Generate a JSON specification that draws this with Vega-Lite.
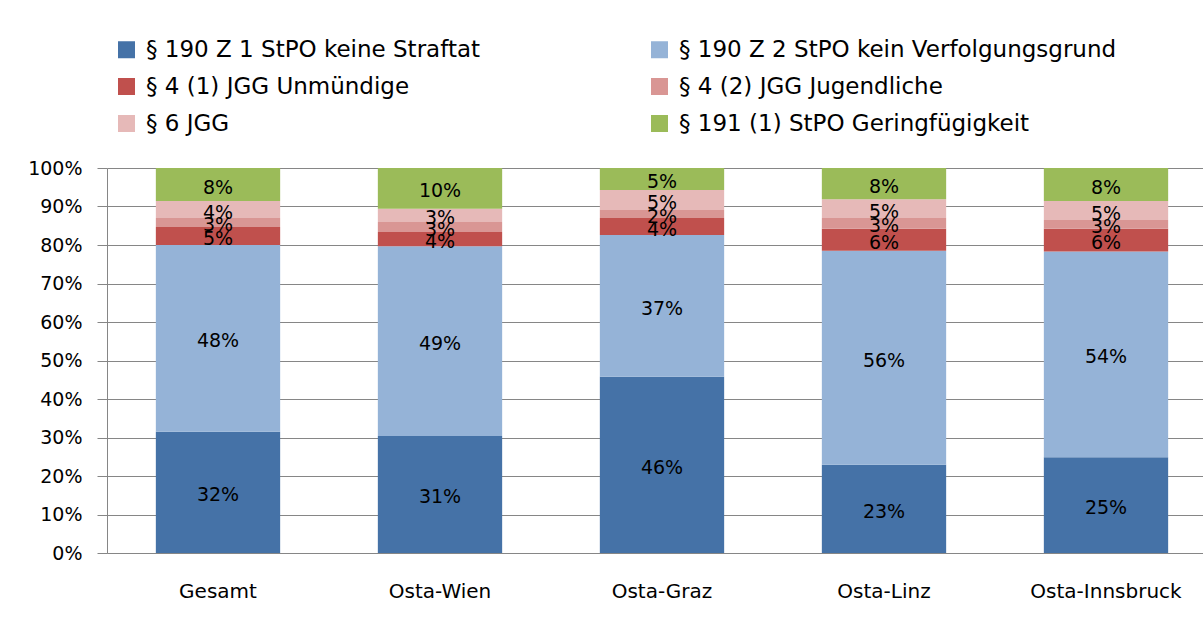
{
  "$schema": "https://vega.github.io/schema/vega-lite/v6.json",
  "autosize": {"type": "none"},
  "padding": {"left": 107, "top": 168, "right": 0, "bottom": 69},
  "width": 1110,
  "height": 385,
  "background": "white",
  "config": {"view": {"stroke": null}, "font": "DejaVu Sans"},
  "data": {"values": [
    {"region": "Gesamt", "cat": "§ 190 Z 1 StPO keine Straftat", "ord": 1, "value": 31.5, "label": "32%"},
    {"region": "Gesamt", "cat": "§ 190 Z 2 StPO kein Verfolgungsgrund", "ord": 2, "value": 48.5, "label": "48%"},
    {"region": "Gesamt", "cat": "§ 4 (1) JGG Unmündige", "ord": 3, "value": 4.7, "label": "5%"},
    {"region": "Gesamt", "cat": "§ 4 (2) JGG Jugendliche", "ord": 4, "value": 2.3, "label": "3%"},
    {"region": "Gesamt", "cat": "§ 6 JGG", "ord": 5, "value": 4.4, "label": "4%"},
    {"region": "Gesamt", "cat": "§ 191 (1) StPO Geringfügigkeit", "ord": 6, "value": 8.6, "label": "8%"},
    {"region": "Osta-Wien", "cat": "§ 190 Z 1 StPO keine Straftat", "ord": 1, "value": 30.4, "label": "31%"},
    {"region": "Osta-Wien", "cat": "§ 190 Z 2 StPO kein Verfolgungsgrund", "ord": 2, "value": 49.3, "label": "49%"},
    {"region": "Osta-Wien", "cat": "§ 4 (1) JGG Unmündige", "ord": 3, "value": 3.7, "label": "4%"},
    {"region": "Osta-Wien", "cat": "§ 4 (2) JGG Jugendliche", "ord": 4, "value": 2.6, "label": "3%"},
    {"region": "Osta-Wien", "cat": "§ 6 JGG", "ord": 5, "value": 3.4, "label": "3%"},
    {"region": "Osta-Wien", "cat": "§ 191 (1) StPO Geringfügigkeit", "ord": 6, "value": 10.6, "label": "10%"},
    {"region": "Osta-Graz", "cat": "§ 190 Z 1 StPO keine Straftat", "ord": 1, "value": 45.8, "label": "46%"},
    {"region": "Osta-Graz", "cat": "§ 190 Z 2 StPO kein Verfolgungsgrund", "ord": 2, "value": 36.8, "label": "37%"},
    {"region": "Osta-Graz", "cat": "§ 4 (1) JGG Unmündige", "ord": 3, "value": 4.4, "label": "4%"},
    {"region": "Osta-Graz", "cat": "§ 4 (2) JGG Jugendliche", "ord": 4, "value": 2.1, "label": "2%"},
    {"region": "Osta-Graz", "cat": "§ 6 JGG", "ord": 5, "value": 5.2, "label": "5%"},
    {"region": "Osta-Graz", "cat": "§ 191 (1) StPO Geringfügigkeit", "ord": 6, "value": 5.7, "label": "5%"},
    {"region": "Osta-Linz", "cat": "§ 190 Z 1 StPO keine Straftat", "ord": 1, "value": 22.9, "label": "23%"},
    {"region": "Osta-Linz", "cat": "§ 190 Z 2 StPO kein Verfolgungsgrund", "ord": 2, "value": 55.6, "label": "56%"},
    {"region": "Osta-Linz", "cat": "§ 4 (1) JGG Unmündige", "ord": 3, "value": 5.7, "label": "6%"},
    {"region": "Osta-Linz", "cat": "§ 4 (2) JGG Jugendliche", "ord": 4, "value": 2.8, "label": "3%"},
    {"region": "Osta-Linz", "cat": "§ 6 JGG", "ord": 5, "value": 4.9, "label": "5%"},
    {"region": "Osta-Linz", "cat": "§ 191 (1) StPO Geringfügigkeit", "ord": 6, "value": 8.1, "label": "8%"},
    {"region": "Osta-Innsbruck", "cat": "§ 190 Z 1 StPO keine Straftat", "ord": 1, "value": 24.9, "label": "25%"},
    {"region": "Osta-Innsbruck", "cat": "§ 190 Z 2 StPO kein Verfolgungsgrund", "ord": 2, "value": 53.4, "label": "54%"},
    {"region": "Osta-Innsbruck", "cat": "§ 4 (1) JGG Unmündige", "ord": 3, "value": 5.9, "label": "6%"},
    {"region": "Osta-Innsbruck", "cat": "§ 4 (2) JGG Jugendliche", "ord": 4, "value": 2.3, "label": "3%"},
    {"region": "Osta-Innsbruck", "cat": "§ 6 JGG", "ord": 5, "value": 4.9, "label": "5%"},
    {"region": "Osta-Innsbruck", "cat": "§ 191 (1) StPO Geringfügigkeit", "ord": 6, "value": 8.6, "label": "8%"}
  ]},
  "transform": [
    {"stack": "value", "groupby": ["region"], "sort": [{"field": "ord"}], "as": ["y0", "y1"], "offset": "normalize"},
    {"calculate": "100 * datum.y0", "as": "p0"},
    {"calculate": "100 * datum.y1", "as": "p1"},
    {"calculate": "50 * (datum.y0 + datum.y1)", "as": "pmid"}
  ],
  "encoding": {
    "x": {
      "field": "region", "type": "nominal",
      "sort": ["Gesamt", "Osta-Wien", "Osta-Graz", "Osta-Linz", "Osta-Innsbruck"],
      "scale": {"paddingInner": 0.44, "paddingOuter": 0.22},
      "axis": {"title": null, "labelAngle": 0, "ticks": false, "domainColor": "#868686", "labelFontSize": 20, "labelColor": "#000000", "labelPadding": 28}
    }
  },
  "layer": [
    {
      "mark": {"type": "bar"},
      "encoding": {
        "y": {
          "field": "p0", "type": "quantitative", "scale": {"domain": [0, 100], "nice": false},
          "axis": {"title": null, "values": [0, 10, 20, 30, 40, 50, 60, 70, 80, 90, 100], "labelExpr": "datum.value + '%'", "labelOverlap": false, "tickSize": 10, "tickColor": "#868686", "domainColor": "#868686", "gridColor": "#868686", "grid": true, "labelFontSize": 19, "labelColor": "#000000", "labelPadding": 15}
        },
        "y2": {"field": "p1"},
        "color": {
          "field": "cat", "type": "nominal",
          "scale": {
            "domain": ["§ 190 Z 1 StPO keine Straftat", "§ 190 Z 2 StPO kein Verfolgungsgrund", "§ 4 (1) JGG Unmündige", "§ 4 (2) JGG Jugendliche", "§ 6 JGG", "§ 191 (1) StPO Geringfügigkeit"],
            "range": ["#4572A7", "#95B3D7", "#C0504D", "#D99694", "#E6B9B8", "#9BBB59"]
          },
          "legend": {"title": null, "orient": "none", "direction": "horizontal", "legendX": 8, "legendY": -130, "columns": 2, "columnPadding": 167, "rowPadding": 13, "symbolType": "square", "symbolSize": 289, "symbolStrokeWidth": 0, "labelFontSize": 23, "labelColor": "#000000", "labelLimit": 700, "labelOffset": 8, "padding": 0}
        }
      }
    },
    {
      "mark": {"type": "text", "fontSize": 19, "dy": 3, "color": "#000000"},
      "encoding": {
        "y": {
          "field": "pmid", "type": "quantitative",
          "axis": {"title": null, "values": [0, 10, 20, 30, 40, 50, 60, 70, 80, 90, 100], "labelExpr": "datum.value + '%'", "labelOverlap": false, "tickSize": 10, "tickColor": "#868686", "domainColor": "#868686", "gridColor": "#868686", "grid": true, "labelFontSize": 19, "labelColor": "#000000", "labelPadding": 15}
        },
        "text": {"field": "label"}
      }
    }
  ]
}
